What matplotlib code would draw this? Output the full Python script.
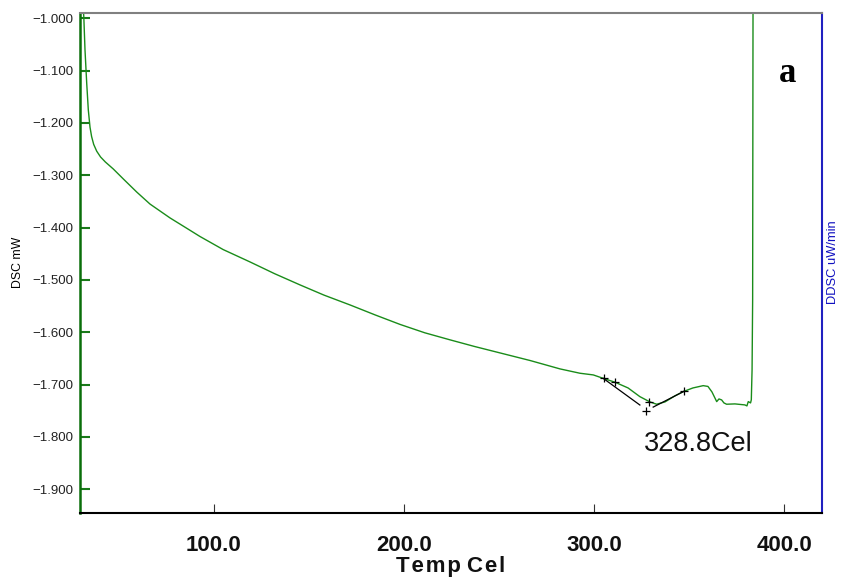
import matplotlib
matplotlib.use("Agg")
import matplotlib.pyplot as plt

# DSC curve (Temp Cel, DSC mW)
temp = [31.3, 31.7, 32.33, 33.23, 34.07, 34.96, 35.8, 36.9, 38.49, 40.5, 43.0, 47.21,
        52.47, 59.52, 66.51, 77.03, 85.8, 92.8, 105.0, 119.1, 132.0, 145.4, 158.0, 171.7,
        185.0, 198.0, 211.0, 224.3, 237.0, 250.6, 266.4, 282.1, 292.6, 299.6, 304.8,
        311.0, 317.9, 324.1, 329.4, 332.9, 337.3, 342.5, 346.9, 352.0, 357.4, 359.9,
        362.0, 364.5, 365.7, 367.1, 368.3, 369.7, 374.1, 379.3, 380.4, 381.1, 382.3,
        382.7, 383.1, 383.4, 383.5, 383.6]
dsc = [-0.975, -0.997, -1.0606, -1.1242, -1.1752, -1.2080, -1.2260, -1.2410, -1.2540,
       -1.2650, -1.2745, -1.2880, -1.3070, -1.3320, -1.3550, -1.3815, -1.4012, -1.4170,
       -1.4420, -1.4656, -1.4880, -1.5095, -1.5290, -1.5478, -1.5670, -1.5850, -1.6010,
       -1.6145, -1.6270, -1.6395, -1.6540, -1.6700, -1.6783, -1.6815, -1.688, -1.6954,
       -1.7064, -1.7230, -1.7331, -1.7375, -1.7331, -1.7216, -1.7134, -1.7064, -1.7020,
       -1.7035, -1.714, -1.7325, -1.7274, -1.7293, -1.735, -1.7375, -1.7369, -1.7388,
       -1.7407, -1.7325, -1.735, -1.729, -1.672, -1.538, -1.252, -0.984]

# onset analysis marks
mark_t = [305.1, 311.0, 329.0, 327.3, 347.4]
mark_d = [-1.688, -1.695, -1.7325, -1.751, -1.7126]
tan1_t = [304.8, 324.1]
tan1_d = [-1.688, -1.739]
tan2_t = [331.1, 347.4]
tan2_d = [-1.743, -1.7126]
onset_label = "328.8Cel"

xticks = [100, 200, 300, 400]
yticks = [-1.0, -1.1, -1.2, -1.3, -1.4, -1.5, -1.6, -1.7, -1.8, -1.9]

fig = plt.figure(figsize=(8.43, 5.79), dpi=100)
ax = fig.add_axes([0.0949, 0.1135, 0.8798, 0.8646])

ax.plot(temp, dsc, color="#1a8c1a", lw=1.0)
ax.plot(tan1_t, tan1_d, color="black", lw=0.9)
ax.plot(tan2_t, tan2_d, color="black", lw=0.9)
ax.plot(mark_t, mark_d, ls="none", marker="+", color="black", ms=6, mew=0.9)

ax.set_xlim(29.7, 419.7)
ax.set_ylim(-1.9459, -0.9893)

ax.set_xticks(xticks)
ax.set_xticklabels(["%.1f" % v for v in xticks], fontsize=16, fontweight="bold",
                   family="Liberation Sans", color="#111111")
ax.set_yticks(yticks)
ax.set_yticklabels(["\u2212%.3f" % abs(v) for v in yticks], fontsize=9.5,
                   family="Liberation Sans", color="#222222")

ax.tick_params(axis="x", direction="in", length=6.5, width=0.8, color="#333333", pad=15.5)
ax.tick_params(axis="y", direction="in", length=7.5, width=1.5, color="#1a7a1a", pad=5)

ax.spines["left"].set_color("#0a6e0a")
ax.spines["left"].set_linewidth(1.8)
ax.spines["top"].set_color("#808080")
ax.spines["top"].set_linewidth(1.5)
ax.spines["right"].set_color("#2020c0")
ax.spines["right"].set_linewidth(1.5)
ax.spines["bottom"].set_color("black")
ax.spines["bottom"].set_linewidth(1.5)

ax.set_xlabel("T\u200ae\u200am\u200ap C\u200ae\u200al", fontsize=16, fontweight="bold",
              family=["Liberation Sans", "DejaVu Sans"], labelpad=0, color="#111111")
fig.text(0.021, 0.547, "DSC mW", rotation=90, ha="center", va="center",
         fontsize=8.8, family="Liberation Sans")
fig.text(0.988, 0.547, "DDSC uW/min", rotation=90, ha="center", va="center",
         fontsize=9.3, family="Liberation Sans", color="#1010c0")

ax.text(698.3 / 843, 1 - 444.3 / 579, onset_label, transform=fig.transFigure,
        ha="center", va="center", fontsize=19.5, family="Liberation Sans", color="#111111")
fig.text(787.7 / 843, 1 - 73.3 / 579, "a", ha="center", va="center", fontsize=25,
         fontweight="bold", family="Liberation Serif")

fig.savefig("out.png", dpi=100)
